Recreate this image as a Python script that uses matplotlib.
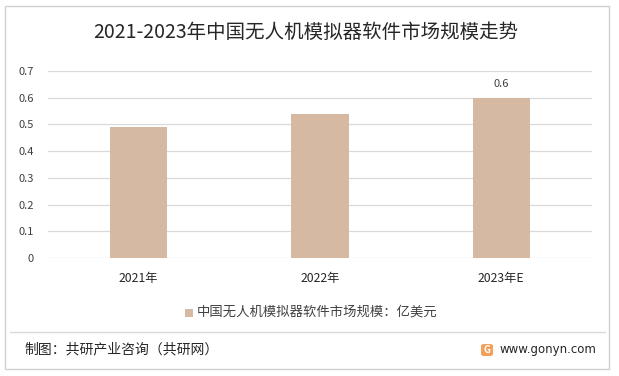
import matplotlib
matplotlib.use("Agg")
import matplotlib.pyplot as plt
from matplotlib.patches import Rectangle, FancyBboxPatch
from matplotlib.lines import Line2D

plt.rcParams['font.family'] = ['Noto Sans CJK SC', 'DejaVu Sans']

categories = ["2021年", "2022年", "2023年E"]
values = [0.49, 0.54, 0.60]
labeled = [False, False, True]
yticks = [0, 0.1, 0.2, 0.3, 0.4, 0.5, 0.6, 0.7]
title = "2021-2023年中国无人机模拟器软件市场规模走势"
legend_label = "中国无人机模拟器软件市场规模：亿美元"
footer_left = "制图：共研产业咨询（共研网）"
footer_right = "www.gonyn.com"

W, H = 619, 376
fig = plt.figure(figsize=(W / 100, H / 100), dpi=100)
fig.patch.set_facecolor("white")

# outer border
fig.add_artist(Rectangle((5 / W, 1 - 369 / H), 604 / W, 363 / H, transform=fig.transFigure,
                         fill=False, edgecolor="#D0D0D0", linewidth=1.0))
# separator line above footer
fig.add_artist(Line2D([10 / W, 605 / W], [1 - 332 / H, 1 - 332 / H], transform=fig.transFigure,
                      color="#D9D9D9", linewidth=1.0))

ax = fig.add_axes([48 / W, 1 - 258 / H, 544 / W, 187 / H])
bar_color = "#D5B9A2"
x = list(range(len(categories)))
bars = ax.bar(x, values, width=0.315, color=bar_color, zorder=3)
ax.set_xlim(-0.5, len(categories) - 0.5)
ax.set_ylim(0, 0.7)
ax.set_yticks(yticks)
ax.set_yticklabels([("%g" % v) for v in yticks])
ax.set_xticks(x)
ax.set_xticklabels(categories)
ax.grid(axis="y", color="#D9D9D9", linewidth=0.9, zorder=0)
for s in ax.spines.values():
    s.set_visible(False)
ax.tick_params(axis="both", length=0, colors="#404040", labelsize=8)
ax.tick_params(axis="y", pad=10)
ax.tick_params(axis="x", pad=10, labelsize=8.8)
for lab in ax.get_xticklabels():
    lab.set_color("#262626")

for xi, v, lb in zip(x, values, labeled):
    if lb:
        ax.annotate("%g" % v, (xi, v), xytext=(0, 6), textcoords="offset points",
                    ha="center", va="bottom", fontsize=8, color="#404040")

# title
fig.text(0.5 * (93 + 518) / W, 1 - 32 / H, title, ha="center", va="center",
         fontsize=14, color="#262626")

# legend
fig.add_artist(Rectangle((185 / W, 1 - 317 / H), 8 / W, 8 / H, transform=fig.transFigure,
                         facecolor=bar_color, edgecolor="none"))
fig.text(197 / W, 1 - 312 / H, legend_label, ha="left", va="center", fontsize=9.6, color="#404040")

# footer
fig.text(24 / W, 1 - 349 / H, footer_left, ha="left", va="center", fontsize=10, color="#262626")
fig.add_artist(FancyBboxPatch((481 / W, 1 - 356 / H), 12 / W, 12 / H, transform=fig.transFigure,
                              boxstyle="round,pad=0,rounding_size=0.005",
                              facecolor="#F2A05A", edgecolor="none"))
fig.text(487 / W, 1 - 350 / H, "G", ha="center", va="center", fontsize=7, color="white",
         fontweight="bold")
fig.text(499 / W, 1 - 349 / H, footer_right, ha="left", va="center", fontsize=8.5, color="#262626",
         family="DejaVu Sans")

fig.savefig("out.png", dpi=100, facecolor="white")
